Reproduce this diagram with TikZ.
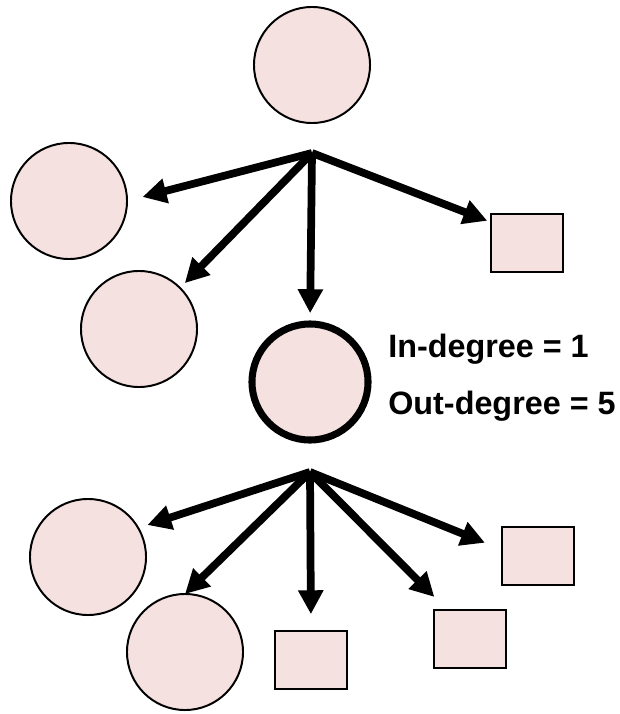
\documentclass[tikz,border=0pt]{standalone}
\usepackage{fontspec}
\setmainfont{Liberation Sans}
\usepackage{tikz}
\usetikzlibrary{arrows.meta,positioning}
\definecolor{nodepink}{RGB}{244,225,224}

\begin{document}
\begin{tikzpicture}[
  x=0.025cm, y=-0.025cm,
  vert/.style={circle, draw, fill=nodepink, line width=1.4pt, minimum size=2.9cm, inner sep=0pt, outer sep=0pt},
  focus/.style={vert, line width=5pt},
  leaf/.style={rectangle, draw, fill=nodepink, line width=1.4pt, minimum width=1.8cm, minimum height=1.45cm, inner sep=0pt, outer sep=0pt},
  deg/.style={font=\fontsize{23}{27}\selectfont\bfseries, inner sep=0pt, anchor=base west},
  arrow/.style={-{Triangle[length=17pt,width=17pt]}, line width=5.5pt}
]
\useasboundingbox (0,0) rectangle (619,714);

% Top: parent
\node[vert] (parent) at (312,65) {};
\coordinate (hubA) at (312,153);

% Siblings of the focus node
\node[vert] (sibA) at (69,201) {};
\node[vert] (sibB) at (139,329) {};
\node[leaf] (sibC) at (527,243) {};

% Focus node with its degrees
\node[focus] (focus) at (310,382) {};
\node[deg] (indeg) at (388,357) {In-degree = 1};
\node[deg] (outdeg) at (388,414) {Out-degree = 5};
\coordinate (hubB) at (310,472);

% Children of the focus node
\node[vert] (kidA) at (88,557) {};
\node[vert] (kidB) at (185,652) {};
\node[leaf] (kidC) at (311,660) {};
\node[leaf] (kidD) at (470,639) {};
\node[leaf] (kidE) at (538,556) {};

% Arrows out of the parent
\draw[arrow, shorten >=0.4cm] (hubA) -- (sibA.east);
\draw[arrow, shorten >=0.17cm] (hubA) -- (sibB.45);
\draw[arrow, shorten >=0.27cm] (hubA) -- (focus.north);
\draw[arrow, shorten >=0.1cm] (hubA) -- (sibC.150);

% Arrows out of the focus node
\draw[arrow, shorten >=0.24cm] (hubB) -- (kidA.30);
\draw[arrow] (hubB) -- (kidB.north);
\draw[arrow, shorten >=0.42cm] (hubB) -- (kidC.north);
\draw[arrow, shorten >=0.46cm] (hubB) -- (kidD.128);
\draw[arrow, shorten >=0.46cm] (hubB) -- (kidE.170);

\end{tikzpicture}
\end{document}
